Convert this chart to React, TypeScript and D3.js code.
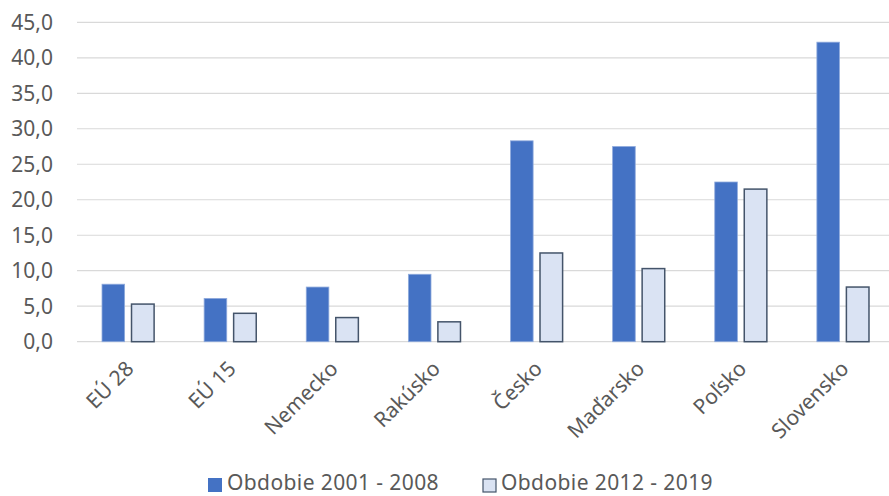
import React from "react";
import * as d3 from "d3";

const categories = ["EÚ 28", "EÚ 15", "Nemecko", "Rakúsko", "Česko", "Maďarsko", "Poľsko", "Slovensko"];
const series1Name = "Obdobie 2001 - 2008";
const series2Name = "Obdobie 2012 - 2019";
const series1 = [8.1, 6.1, 7.7, 9.5, 28.3, 27.5, 22.5, 42.2];
const series2 = [5.3, 4.0, 3.4, 2.8, 12.5, 10.3, 21.5, 7.7];
const yTicks = [0, 5, 10, 15, 20, 25, 30, 35, 40, 45];

const W = 889;
const H = 496;
const FONT = "'Noto Sans', 'Open Sans', sans-serif";
const TXT = "#595959";

export default function App() {
  const x0 = d3.scaleBand<string>().domain(categories).range([77, 894]).paddingInner(0).paddingOuter(0);
  const y = d3.scaleLinear().domain([0, 45]).range([341.7, 22.3]);
  const bw = 22.6;
  const off = 14.75;
  const fmt = (v: number) => v.toFixed(1).replace(".", ",");

  return (
    <svg width={W} height={H} style={{ position: "absolute", left: 0, top: 0, background: "#fff" }}>
      <rect x={0} y={0} width={W} height={H} fill="#fff" />
      {yTicks.map((t) => (
        <g key={t}>
          <line x1={77} x2={W} y1={y(t)} y2={y(t)} stroke="#D9D9D9" strokeWidth={1.2} />
          <text x={53} y={y(t)} dy="0.36em" textAnchor="end" fontFamily={FONT} fontSize={21} fill={TXT}>
            {fmt(t)}
          </text>
        </g>
      ))}
      {categories.map((c, i) => {
        const cx = (x0(c) as number) + x0.bandwidth() / 2;
        return (
          <g key={c}>
            <rect
              x={cx - off - bw / 2}
              y={y(series1[i])}
              width={bw}
              height={y(0) - y(series1[i])}
              fill="#4472C4"
              stroke="#8FAADC"
              strokeWidth={0.8}
            />
            <rect
              x={cx + off - bw / 2}
              y={y(series2[i])}
              width={bw}
              height={y(0) - y(series2[i])}
              fill="#DAE3F3"
              stroke="#44546A"
              strokeWidth={1.5}
            />
            <text
              transform={`translate(${cx + 7},${370}) rotate(-45)`}
              textAnchor="end"
              fontFamily={FONT}
              fontSize={21}
              fill={TXT}
            >
              {c}
            </text>
          </g>
        );
      })}
      <g>
        <rect x={208} y={478} width={14} height={14} fill="#4472C4" />
        <text x={227} y={490} fontFamily={FONT} fontSize={21} letterSpacing={0.4} fill={TXT}>
          {series1Name}
        </text>
        <rect x={483} y={479} width={13} height={13} fill="#DAE3F3" stroke="#44546A" strokeWidth={1.2} />
        <text x={501} y={490} fontFamily={FONT} fontSize={21} letterSpacing={0.4} fill={TXT}>
          {series2Name}
        </text>
      </g>
    </svg>
  );
}
